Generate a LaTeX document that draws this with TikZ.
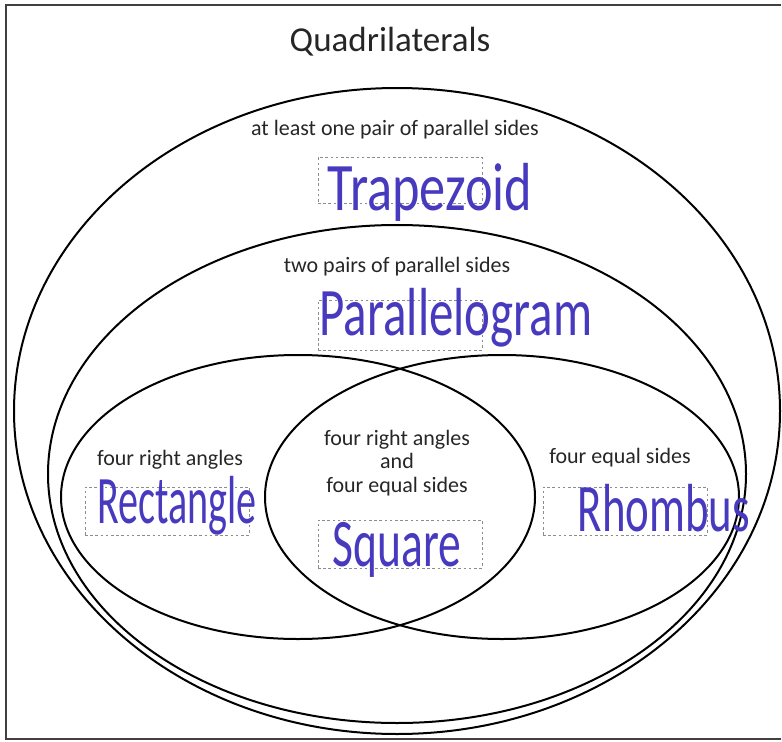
\documentclass[tikz,border=0pt]{standalone}
\usepackage{fontspec}
\setmainfont{Carlito}
\definecolor{inkblue}{RGB}{72,58,190}

\begin{document}
\begin{tikzpicture}[x=0.5pt,y=0.5pt]
	\tikzstyle{ring}=[line width=1pt, draw=black]
	\tikzstyle{caption}=[font=\fontsize{11}{13}\selectfont, text=black!85, align=center, inner sep=0pt]
	\tikzstyle{slot}=[rectangle, draw=black!45, dash pattern=on 1.3pt off 1.3pt, line width=0.5pt, minimum width=82pt, minimum height=24pt, inner sep=0pt]
	\tikzstyle{hand}=[text=inkblue, font=\fontsize{34}{34}\selectfont, inner sep=0pt]
	\useasboundingbox (0,0) rectangle (782,741);
	% frame, open on the right
	\draw[line width=1.4pt, black!75] (781,736) -- (6,736) -- (6,2) -- (781,2);
	% nested sets
	\draw[ring] (397,330) ellipse [x radius=383, y radius=323];
	\draw[ring] (397,267) ellipse [x radius=349, y radius=249];
	\draw[ring] (298,244) ellipse [x radius=237, y radius=142];
	\draw[ring] (502,244) ellipse [x radius=237, y radius=142];
	\node[font=\fontsize{17.5}{20}\selectfont, text=black!85] (title) at (390,699) {Quadrilaterals};
	% labels and answer slots
	\node[caption] (trapcap) at (395,611) {at least one pair of parallel sides};
	\node[slot, minimum height=23pt] (trapbox) at (400,561) {};
	\node[hand, xscale=0.77] (trapezoid) at (430,549) {Trapezoid};
	\node[caption] (paracap) at (397,474) {two pairs of parallel sides};
	\node[slot, minimum height=25pt] (parabox) at (400,416) {};
	\node[hand, xscale=0.72] (parallelogram) at (456,423) {Parallelogram};
	\node[caption] (rectcap) at (170,281) {four right angles};
	\node[slot] (rectbox) at (167,230) {};
	\node[hand, xscale=0.59] (rectangle) at (177,235) {Rectangle};
	\node[caption, font=\fontsize{11}{11.6}\selectfont] (squarecap) at (397,278) {four right angles\\and\\four equal sides};
	\node[slot] (squarebox) at (400,197) {};
	\node[hand, xscale=0.67] (square) at (397,191) {Square};
	\node[caption] (rhombcap) at (620,283) {four equal sides};
	\node[slot] (rhombbox) at (625,230) {};
	\node[hand, xscale=0.66] (rhombus) at (664,233) {Rhombus};
\end{tikzpicture}
\end{document}
